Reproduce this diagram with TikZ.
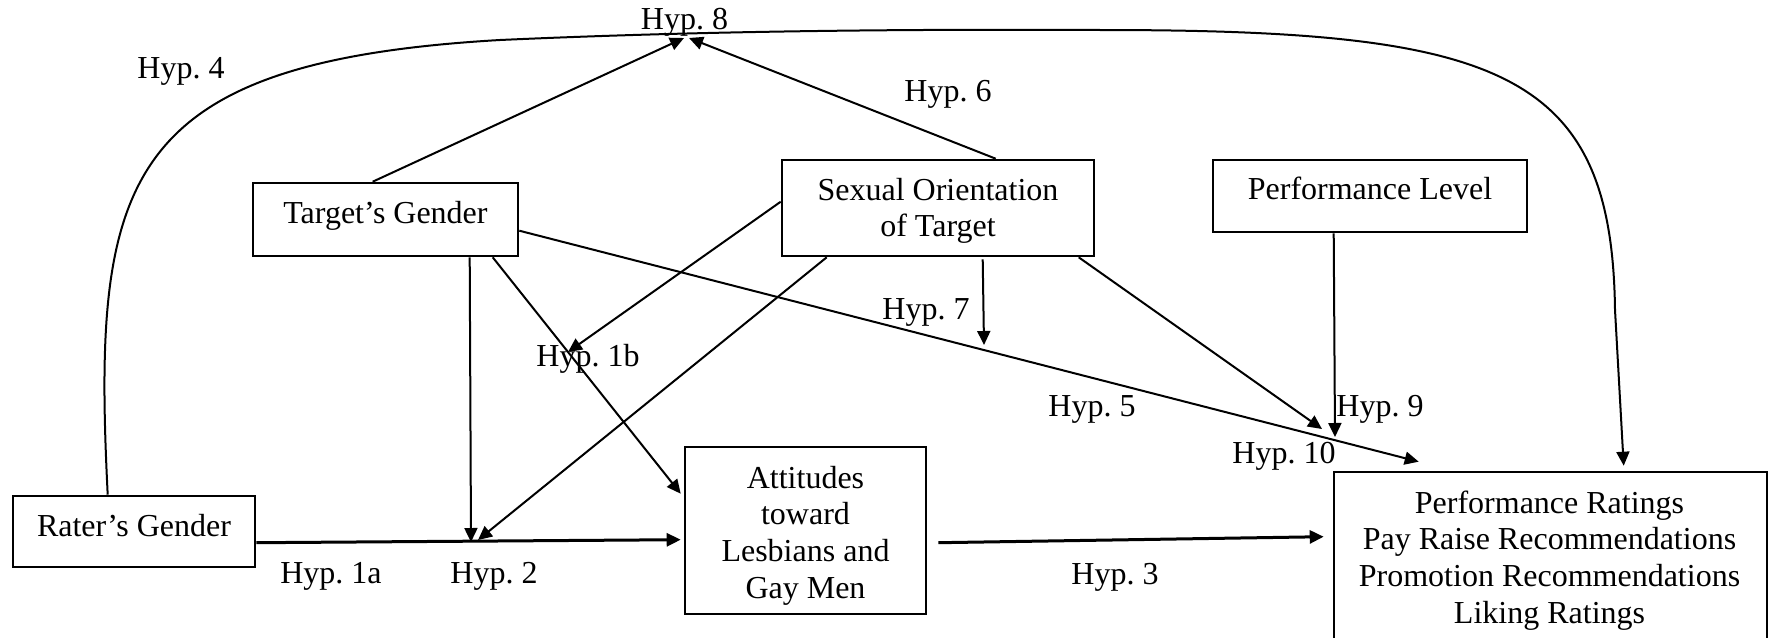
\documentclass[tikz,border=0pt]{standalone}
\usepackage{fontspec}
\setmainfont{Liberation Serif}
\usetikzlibrary{arrows.meta,calc}
\frenchspacing
\begin{document}
\begin{tikzpicture}[x=0.5pt,y=-0.5pt,
  box/.style={draw, line width=1.3pt, inner sep=0pt, rectangle},
  txt/.style={anchor=base, inner sep=0pt, font=\fontsize{16pt}{18pt}\selectfont\frenchspacing},
  conn/.style={line width=1pt, -{Triangle[length=7pt,width=6.5pt]}},
  hconn/.style={line width=1.5pt, -{Triangle[length=7pt,width=6.5pt]}}]
\clip (0,0) rectangle (1771,637);
% boxes
\node[box, minimum width=121pt, minimum height=35.5pt] (rater) at (134,531.5) {};
\node[box, minimum width=132.5pt, minimum height=36.5pt] (tg) at (385.5,219.5) {};
\node[box, minimum width=156pt, minimum height=48pt] (so) at (938,208) {};
\node[box, minimum width=157pt, minimum height=36pt] (pl) at (1370,196) {};
\node[box, minimum width=120.5pt, minimum height=83.5pt] (att) at (805.5,530.5) {};
\node[box, minimum width=216.5pt, minimum height=94pt] (out) at (1550.5,566) {};
% box texts
\node[txt] (raterT) at (134,536) {Rater’s Gender};
\node[txt] (tgT) at (385.5,223) {Target’s Gender};
\node[txt] (soT1) at (938,200) {Sexual Orientation};
\node[txt] (soT2) at (938,236) {of Target};
\node[txt] (plT) at (1370,199) {Performance Level};
\node[txt] (attT1) at (805.5,488) {Attitudes};
\node[txt] (attT2) at (805.5,524.7) {toward};
\node[txt] (attT3) at (805.5,561.4) {Lesbians and};
\node[txt] (attT4) at (805.5,598) {Gay Men};
\node[txt] (outT1) at (1549.5,513) {Performance Ratings};
\node[txt] (outT2) at (1549.5,549.7) {Pay Raise Recommendations};
\node[txt] (outT3) at (1549.5,586.4) {Promotion Recommendations};
\node[txt] (outT4) at (1549.5,623) {Liking Ratings};
% free ends
\coordinate (h8L) at (684,38);
\coordinate (h8R) at (689,38);
\coordinate (h1b) at (568,352);
\coordinate (h2a) at (471,542);
\coordinate (h2b) at (478,540);
\coordinate (h7) at (984,345);
\coordinate (h10) at (1322,429);
\coordinate (h9) at (1335,437);
% connectors
\draw[conn] ($(tg.north west)+(121,0)$) -- (h8L);
\draw[conn] ($(so.north west)+(215,0)$) -- (h8R);
\draw[conn] ($(rater.north west)+(96,0)$) .. controls (92,180) and (120,62) .. (500,40)
  .. controls (700,31) and (900,29) .. (1100,30)
  .. controls (1500,30) and (1612,70) .. (1615,310)
  -- ($(out.north west)+(291,-5)$);
\draw[hconn] ($(rater.north east)+(0,48)$) -- ($(att.north west)+(-3,94)$);
\draw[conn] ($(tg.south west)+(218,0)$) -- (h2a);
\draw[conn] ($(tg.south west)+(241,0)$) -- ($(att.north west)+(-3,48)$);
\draw[conn] ($(so.north west)+(0,43)$) -- (h1b);
\draw[conn] ($(so.south west)+(46,0)$) -- (h2b);
\draw[conn] ($(tg.north east)+(0,49)$) -- ($(out.north west)+(86,-9)$);
\draw[conn] ($(so.south west)+(202,2)$) -- (h7);
\draw[conn] ($(so.south west)+(298,0)$) -- (h10);
\draw[conn] ($(pl.south west)+(122,0)$) -- (h9);
\draw[hconn] ($(att.north east)+(11,97)$) -- ($(out.north west)+(-9,66)$);
% labels
\node[txt] (l8) at (684.5,29.5) {Hyp. 8};
\node[txt] (l4) at (181,78) {Hyp. 4};
\node[txt] (l6) at (948,101) {Hyp. 6};
\node[txt] (l7) at (926,319) {Hyp. 7};
\node[txt] (l1b) at (588,366) {Hyp. 1b};
\node[txt] (l5) at (1092,416) {Hyp. 5};
\node[txt] (l9) at (1380,416) {Hyp. 9};
\node[txt] (l10) at (1284,463) {Hyp. 10};
\node[txt] (l1a) at (331,583) {Hyp. 1a};
\node[txt] (l2) at (494,583) {Hyp. 2};
\node[txt] (l3) at (1115,584) {Hyp. 3};
\end{tikzpicture}
\end{document}
